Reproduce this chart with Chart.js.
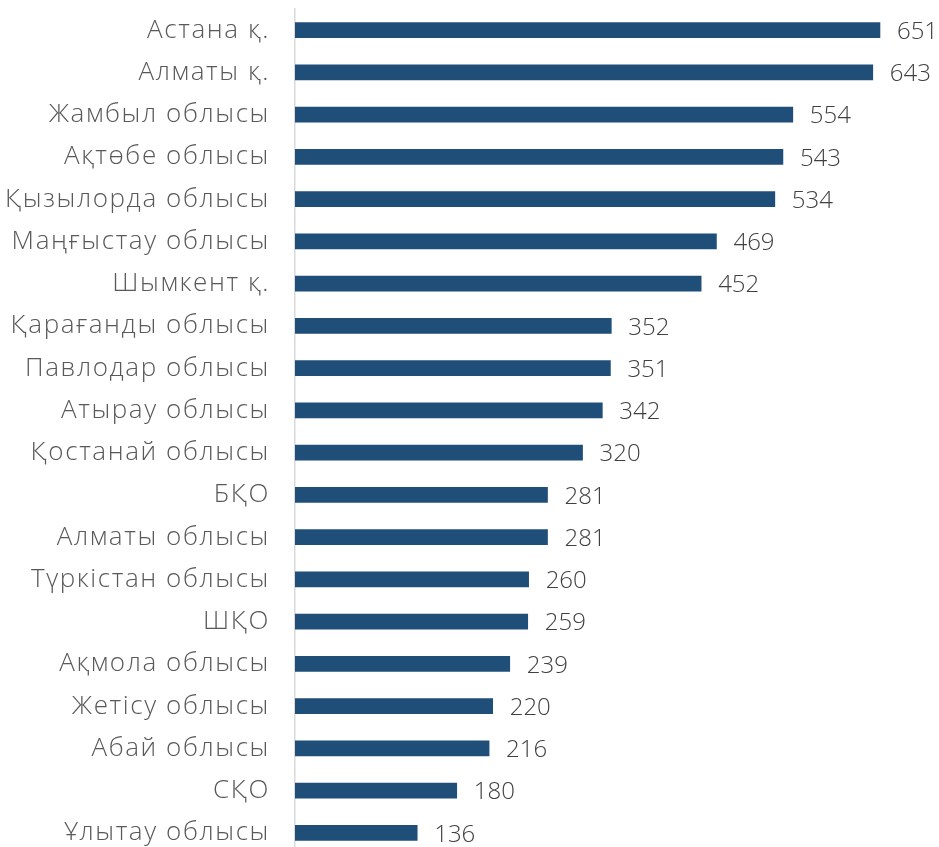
<!DOCTYPE html>
<html lang="kk">
<head>
<meta charset="UTF-8">
<title>Өңірлер</title>
<script src="https://cdn.jsdelivr.net/npm/chart.js"></script>
<style>
  html, body { margin: 0; padding: 0; background: #fff; overflow: hidden; }
  #wrap { width: 939px; height: 855px; position: relative; }
</style>
</head>
<body>
<div id="wrap"><canvas id="chart"></canvas></div>
<script>
const regions = [
  'Астана қ.', 'Алматы қ.', 'Жамбыл облысы', 'Ақтөбе облысы', 'Қызылорда облысы',
  'Маңғыстау облысы', 'Шымкент қ.', 'Қарағанды облысы', 'Павлодар облысы', 'Атырау облысы',
  'Қостанай облысы', 'БҚО', 'Алматы облысы', 'Түркістан облысы', 'ШҚО',
  'Ақмола облысы', 'Жетісу облысы', 'Абай облысы', 'СҚО', 'Ұлытау облысы'
];
const counts = [651, 643, 554, 543, 534, 469, 452, 352, 351, 342, 320, 281, 281, 260, 259, 239, 220, 216, 180, 136];

const FONT = '"Open Sans", "DejaVu Sans", sans-serif';

// wider tracking for the category labels, like the original font
const labelSpacing = {
  id: 'labelSpacing',
  beforeDraw(chart) { chart.ctx.letterSpacing = '1.6px'; },
  beforeDatasetsDraw(chart) { chart.ctx.letterSpacing = '0px'; }
};

// value labels at the end of each bar
const barValues = {
  id: 'barValues',
  afterDatasetsDraw(chart) {
    const ctx = chart.ctx;
    const meta = chart.getDatasetMeta(0);
    ctx.save();
    ctx.font = '300 24px ' + FONT;
    ctx.fillStyle = '#404040';
    ctx.textAlign = 'left';
    ctx.textBaseline = 'middle';
    meta.data.forEach((bar, i) => {
      ctx.fillText(String(counts[i]), bar.x + 17, bar.y + 2);
    });
    ctx.restore();
  }
};

new Chart(document.getElementById('chart'), {
  type: 'bar',
  data: {
    labels: regions,
    datasets: [{
      data: counts,
      backgroundColor: '#1F4E79',
      barThickness: 15
    }]
  },
  options: {
    indexAxis: 'y',
    responsive: true,
    maintainAspectRatio: false,
    animation: false,
    layout: { padding: { top: 9, bottom: 1, right: 15, left: 0 } },
    plugins: { legend: { display: false }, tooltip: { enabled: false } },
    scales: {
      x: {
        display: false,
        min: 0,
        max: 700
      },
      y: {
        afterFit(scale) {
          scale.width = 295;
          scale.paddingTop = 0;
          scale.paddingBottom = 0;
        },
        grid: { display: false, drawTicks: false },
        border: { display: true, color: '#D9D9D9', width: 1.5 },
        ticks: {
          padding: 25,
          color: '#595959',
          font: { family: FONT, size: 26, weight: '300' }
        }
      }
    }
  },
  plugins: [labelSpacing, barValues]
});
</script>
</body>
</html>
